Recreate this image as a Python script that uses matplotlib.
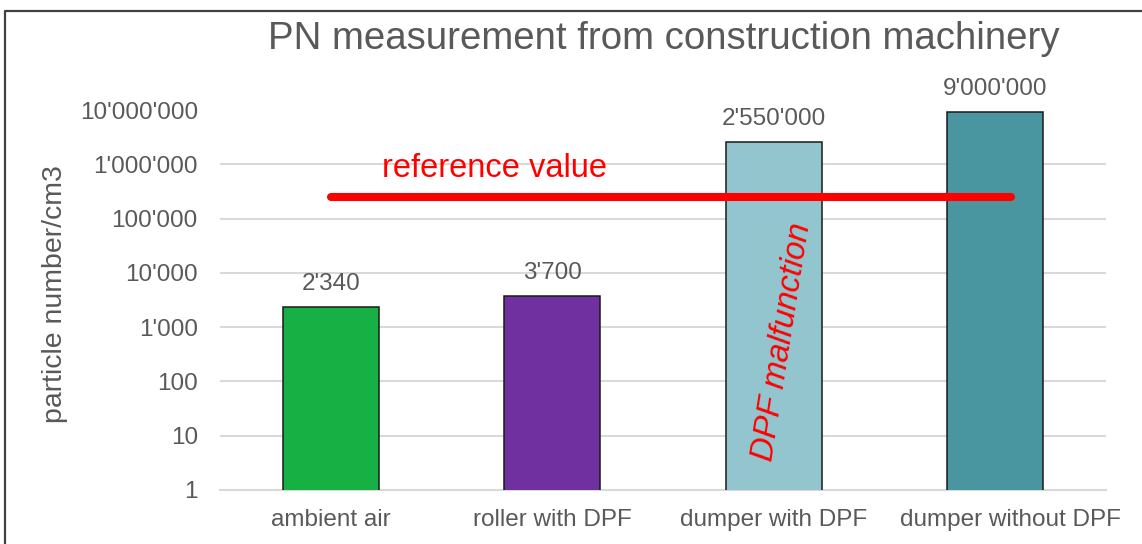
import matplotlib
matplotlib.use("Agg")
import matplotlib.pyplot as plt
from matplotlib.lines import Line2D
from matplotlib.transforms import ScaledTranslation
import numpy as np

# Data
categories = ["ambient air", "roller with DPF", "dumper with DPF", "dumper without DPF"]
pn_values = [2340, 3700, 2550000, 9000000]
bar_colors = ["#17B044", "#7030A0", "#92C5CE", "#4A96A0"]
reference_value = 250000
reference_span = [0.0, 3.07]
y_ticks = [1, 10, 100, 1000, 10000, 100000, 1000000, 10000000]

plt.rcParams["font.family"] = ["Liberation Sans", "DejaVu Sans"]
TEXT = "#595959"
GRID = "#D9D9D9"


def swiss(v):
    return f"{int(round(v)):,}".replace(",", "'")


fig = plt.figure(figsize=(11.42, 5.44), dpi=100)
ax = fig.add_axes([220 / 1142, 54 / 544, 886 / 1142, 380 / 544])

x = np.arange(len(categories))
ax.set_yscale("log")
ax.set_ylim(y_ticks[0], y_ticks[-1])
ax.set_xlim(-0.5, len(categories) - 0.5)

# horizontal gridlines (none at the top value)
for t in y_ticks[:-1]:
    ax.axhline(t, color=GRID, lw=1.5, zorder=0)

bars = ax.bar(x, pn_values, width=0.435, color=bar_colors,
              edgecolor="#1A1A1A", linewidth=1.1, zorder=2)

for xi, v in zip(x, pn_values):
    ax.annotate(swiss(v), (xi, v), xytext=(0, 9), textcoords="offset points",
                ha="center", va="bottom", fontsize=17.5, color=TEXT)

# reference line
ax.plot(reference_span, [reference_value, reference_value], color="#FF0000",
        lw=5.8, solid_capstyle="round", zorder=4)
ax.text(0.310, 0.824, "reference value", transform=ax.transAxes,
        ha="center", va="baseline", fontsize=23.5, color="#FF0000")
ax.text(0.635, 0.390, "DPF malfunction", transform=ax.transAxes,
        ha="center", va="center", rotation=81, rotation_mode="anchor",
        fontsize=23.5, color="#FF0000", style="italic", zorder=5)

ax.set_yticks(y_ticks)
ax.set_yticklabels([swiss(t) for t in y_ticks])
ax.yaxis.set_minor_locator(matplotlib.ticker.NullLocator())
ax.set_xticks(x)
ax.set_xticklabels(categories)
ax.tick_params(axis="y", length=0, pad=16, labelsize=17.5, labelcolor=TEXT)
ax.tick_params(axis="x", length=0, pad=14, labelsize=17.5, labelcolor=TEXT)

# keep the last category label inside the chart area
last = ax.get_xticklabels()[-1]
last.set_transform(last.get_transform() + ScaledTranslation(15 / 100, 0, fig.dpi_scale_trans))

for side in ["top", "right", "left"]:
    ax.spines[side].set_visible(False)
ax.spines["bottom"].set_color(GRID)
ax.spines["bottom"].set_linewidth(1.5)
ax.spines["bottom"].set_zorder(1)

ax.set_ylabel("particle number/cm3", fontsize=20.5, color=TEXT)
ax.yaxis.set_label_coords(-(220 - 68) / 886, 0.515)

fig.text(664 / 1142, 1 - 39 / 544, "PN measurement from construction machinery",
         ha="center", va="center", fontsize=27.6, color=TEXT)

# outer frame (top and left edges)
fx, fy = 5 / 1142, 1 - 11 / 544
fig.add_artist(Line2D([fx, fx, 1.0], [0.0, fy, fy], transform=fig.transFigure,
                      color="#404040", lw=1.6))

fig.savefig("out.png", dpi=100, facecolor="white")
